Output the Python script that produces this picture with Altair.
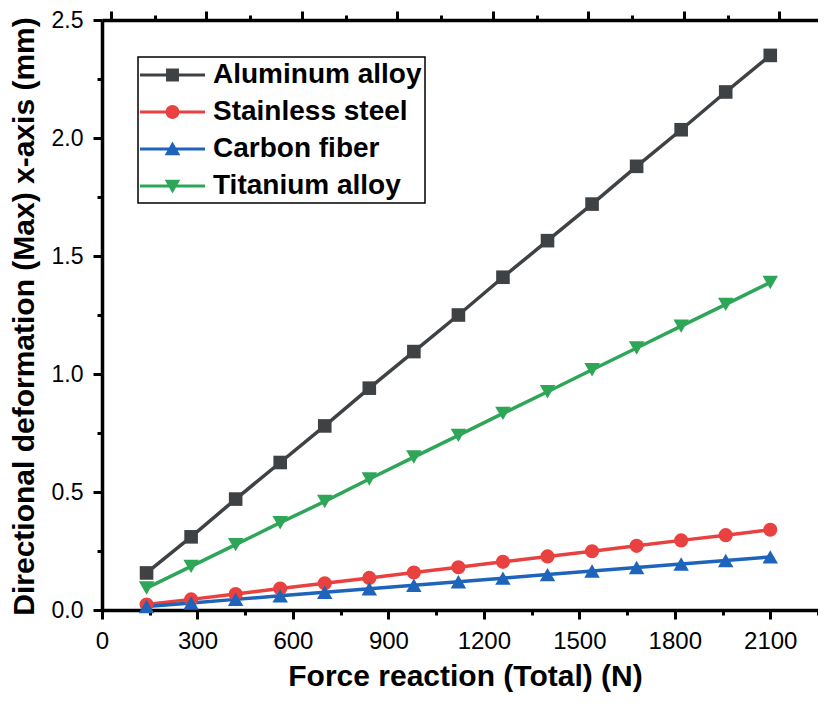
import altair as alt
import pandas as pd

materials = ["Aluminum alloy", "Stainless steel", "Carbon fiber", "Titanium alloy"]
force = [140, 280, 420, 560, 700, 840, 980, 1120, 1260, 1400, 1540, 1680, 1820, 1960, 2100]
aluminum = [0.157, 0.31, 0.47, 0.625, 0.78, 0.94, 1.095, 1.25, 1.41, 1.565, 1.72, 1.88, 2.035, 2.195, 2.35]
stainless = [0.023, 0.045, 0.068, 0.091, 0.113, 0.136, 0.159, 0.181, 0.204, 0.227, 0.249, 0.272, 0.295, 0.317, 0.34]
carbon = [0.015, 0.03, 0.045, 0.06, 0.075, 0.09, 0.105, 0.12, 0.135, 0.15, 0.165, 0.18, 0.195, 0.21, 0.225]
titanium = [0.093, 0.185, 0.277, 0.37, 0.46, 0.555, 0.648, 0.74, 0.833, 0.925, 1.018, 1.11, 1.203, 1.295, 1.388]

x_ticks = [0, 150, 300, 450, 600, 750, 900, 1050, 1200, 1350, 1500, 1650, 1800, 1950, 2100, 2250]
x_major = [0, 300, 600, 900, 1200, 1500, 1800, 2100]
x_minor = [150, 450, 750, 1050, 1350, 1650, 1950, 2250]
y_ticks = [0.0, 0.25, 0.5, 0.75, 1.0, 1.25, 1.5, 1.75, 2.0, 2.25, 2.5]

colors = ["#3e4245", "#e8413f", "#1d64ba", "#2ea658"]
shapes = ["square", "circle", "triangle-up", "triangle-down"]
sizes = [185, 200, 240, 240]

# legend glyphs: line segment with the marker in its middle
line_part = "M-1.07,-0.1 H3.27 V0.1 H-1.07 Z "
legend_paths = [
    line_part + "M0.67,-0.43 H1.53 V0.43 H0.67 Z",
    line_part + "M0.64,0 A0.46,0.46 0 1,1 1.56,0 A0.46,0.46 0 1,1 0.64,0 Z",
    line_part + "M1.1,-0.5 L1.62,0.42 L0.58,0.42 Z",
    line_part + "M1.1,0.5 L0.58,-0.42 L1.62,-0.42 Z",
]

series = [aluminum, stainless, carbon, titanium]
rows = []
for m, vals in zip(materials, series):
    for f, v in zip(force, vals):
        rows.append({"Force": f, "Deformation": v, "Material": m})
df = pd.DataFrame(rows)

FONT = "Liberation Sans"
xscale = alt.Scale(domain=[0, 2250], nice=False, zero=False)
yscale = alt.Scale(domain=[0, 2.5], nice=False)
cscale = alt.Scale(domain=materials, range=colors)

bottom_axis = alt.Axis(
    values=x_ticks,
    labelExpr="datum.value % 300 === 0 ? datum.label : ''",
    format="d",
    tickSize={"condition": {"test": "datum.value % 300 === 0", "value": 9}, "value": 5},
    tickWidth=3, tickColor="black",
    domainWidth=3.5, domainColor="black",
    labelFont=FONT, labelFontSize=24, labelColor="black", labelPadding=10,
    labelFlush=False, labelOverlap=False,
    grid=False,
    title="Force reaction (Total) (N)",
    titleFont=FONT, titleFontSize=30, titleFontWeight="bold", titleColor="black",
    titleX=363, titleY=75, titleBaseline="alphabetic", titleAlign="center",
)
left_axis = alt.Axis(
    values=y_ticks,
    labelExpr="(datum.value * 2) % 1 === 0 ? format(datum.value, '.1f') : ''",
    tickSize={"condition": {"test": "(datum.value * 2) % 1 === 0", "value": 9}, "value": 5},
    tickWidth=3, tickColor="black",
    domainWidth=3.5, domainColor="black",
    labelFont=FONT, labelFontSize=23, labelColor="black", labelPadding=10,
    labelFlush=False, labelOverlap=False,
    grid=False,
    title="Directional deformation (Max)  x-axis (mm)",
    titleFont=FONT, titleFontSize=30, titleFontWeight="bold", titleColor="black",
    titleX=-78, titleY=296, titleAngle=270, titleBaseline="middle", titleAlign="center",
)
top_domain = alt.Axis(orient="top", ticks=False, labels=False, domain=True,
                      domainWidth=3.5, domainColor="black", grid=False, title=None)
top_major = alt.Axis(orient="top", values=x_major, ticks=True, labels=False, domain=False,
                     tickSize=9, tickWidth=3, tickColor="black", position=9, grid=False, title=None)
top_minor = alt.Axis(orient="top", values=x_minor, ticks=True, labels=False, domain=False,
                     tickSize=5, tickWidth=3, tickColor="black", position=5, grid=False, title=None)

leg = alt.Legend(
    title=None, orient="none", legendX=36, legendY=37,
    labelFont=FONT, labelFontSize=28, labelFontWeight="bold", labelColor="black",
    labelLimit=0, labelOffset=42,
    symbolSize=900, symbolStrokeWidth=0, symbolOpacity=1,
    rowPadding=8, padding=3,
    strokeColor="black", fillColor="white",
)

base = alt.Chart(df)

lines = base.mark_line(strokeWidth=3.5).encode(
    x=alt.X("Force:Q", scale=xscale, axis=bottom_axis),
    y=alt.Y("Deformation:Q", scale=yscale, axis=left_axis),
    color=alt.Color("Material:N", scale=cscale, legend=leg),
)

point_axes = [top_domain, top_major, top_minor, None]
point_layers = []
for m, shp, sz, ax in zip(materials, shapes, sizes, point_axes):
    point_layers.append(
        base.transform_filter(alt.datum.Material == m)
        .mark_point(shape=shp, size=sz, filled=True, opacity=1, strokeWidth=0)
        .encode(
            x=alt.X("Force:Q", scale=xscale, axis=ax),
            y=alt.Y("Deformation:Q", scale=yscale, axis=None),
            color=alt.Color("Material:N", scale=cscale, legend=leg),
        )
    )

legend_layer = (
    base.transform_filter("false")
    .mark_point(filled=True, opacity=1)
    .encode(
        x=alt.X("Force:Q", scale=xscale, axis=None),
        y=alt.Y("Deformation:Q", scale=yscale, axis=None),
        color=alt.Color("Material:N", scale=cscale, legend=leg),
        shape=alt.Shape("Material:N", scale=alt.Scale(domain=materials, range=legend_paths), legend=leg),
    )
)

chart = (
    alt.layer(lines, *point_layers, legend_layer)
    .resolve_axis(x="independent", y="independent")
    .properties(
        width=716, height=590,
        autosize=alt.AutoSizeParams(type="none"),
        padding={"left": 94, "top": 12, "right": 0, "bottom": 82},
        background="white",
    )
    .configure_view(stroke=None)
    .configure_legend(strokeWidth=1.5)
)

chart.save("out.html", embed_options={"renderer": "svg", "actions": False})
